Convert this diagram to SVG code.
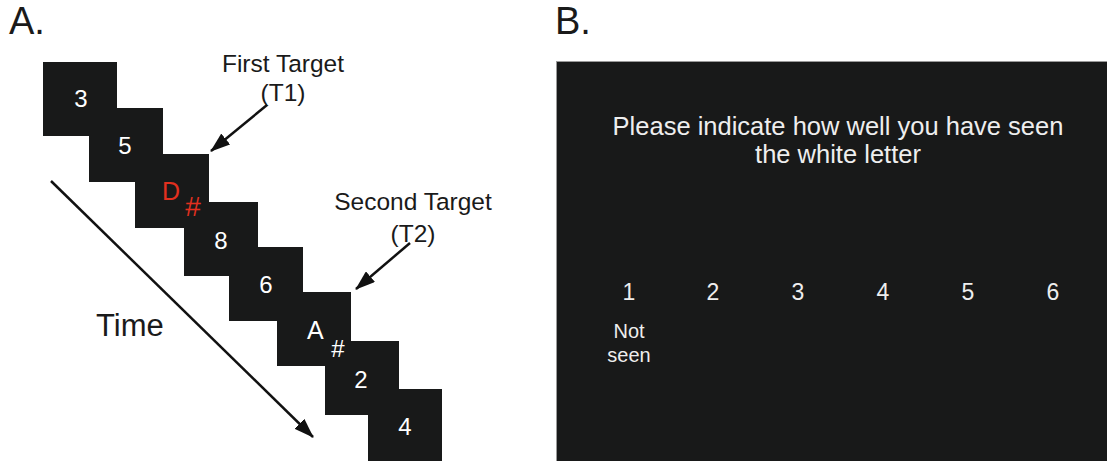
<svg xmlns="http://www.w3.org/2000/svg" width="1107" height="461" viewBox="0 0 1107 461" font-family="'Liberation Sans', Arial, Helvetica, sans-serif">
<style>
.sq{fill:#181919}
.w{fill:#ffffff;font-size:24px;text-anchor:middle}
.lab{fill:#1a1a1a;font-size:24.5px;text-anchor:middle}
.pl{fill:#1a1a1a;font-size:38px}
.bt{fill:#eeeeee;font-size:25.5px;text-anchor:middle}
.num{fill:#eeeeee;font-size:23px;text-anchor:middle}
.red{fill:#e2301f}
.conn{stroke:#111;stroke-width:2.5;fill:none}
</style>
<defs>
<marker id="ah" markerUnits="userSpaceOnUse" viewBox="0 0 20 14" refX="19" refY="7" markerWidth="20" markerHeight="14" orient="auto">
<path d="M0,0 L20,7 L0,14 z" fill="#111"/>
</marker>
</defs>
<rect width="1107" height="461" fill="#ffffff"/>
<text class="pl" x="9" y="34">A.</text>
<text class="pl" x="555" y="34">B.</text>

<g id="frame8"><rect class="sq" x="368" y="389" width="74" height="80"/><text class="w" x="405" y="435">4</text></g>
<g id="frame7"><rect class="sq" x="325" y="341" width="74" height="74"/><text class="w" x="361" y="388">2</text></g>
<g id="frame6"><rect class="sq" x="277" y="292" width="74" height="74"/><text x="307" y="339" fill="#ffffff" font-size="25">A</text><text x="338" y="357" fill="#ffffff" font-size="24" text-anchor="middle">#</text></g>
<g id="frame5"><rect class="sq" x="229" y="247" width="74" height="74"/><text class="w" x="266" y="293">6</text></g>
<g id="frame4"><rect class="sq" x="184" y="202" width="74" height="74"/><text class="w" x="221" y="249">8</text></g>
<g id="frame3"><rect class="sq" x="135" y="154" width="74" height="74"/><text class="red" x="162" y="200" font-size="25">D</text><text class="red" x="193" y="216" font-size="28" text-anchor="middle">#</text></g>
<g id="frame2"><rect class="sq" x="89" y="108" width="74" height="74"/><text class="w" x="125" y="154">5</text></g>
<g id="frame1"><rect class="sq" x="43" y="62" width="74" height="74"/><text class="w" x="81" y="107">3</text></g>

<g id="label-t1"><text class="lab" x="283" y="72">First Target</text><text class="lab" x="283" y="101">(T1)</text></g>
<g id="label-t2"><text class="lab" x="413" y="210">Second Target</text><text class="lab" x="413" y="242">(T2)</text></g>
<g id="label-time"><text x="96" y="336" font-size="31" fill="#1a1a1a">Time</text></g>

<g id="connectors">
<line class="conn" x1="267" y1="105" x2="211" y2="151" marker-end="url(#ah)"/>
<line class="conn" x1="410" y1="243" x2="356" y2="289" marker-end="url(#ah)"/>
<line class="conn" x1="51" y1="181" x2="313" y2="437" marker-end="url(#ah)"/>
</g>

<g id="panelB">
<rect x="556.5" y="61.5" width="560" height="410" fill="#181919" stroke="#9a9a9a" stroke-width="1"/>
<text class="bt" x="838" y="135">Please indicate how well you have seen</text>
<text class="bt" x="838" y="163">the white letter</text>
<text class="num" x="629" y="300">1</text>
<text class="num" x="713" y="300">2</text>
<text class="num" x="798" y="300">3</text>
<text class="num" x="883" y="300">4</text>
<text class="num" x="968" y="300">5</text>
<text class="num" x="1053" y="300">6</text>
<text x="629" y="338" font-size="20" fill="#eeeeee" text-anchor="middle">Not</text>
<text x="629" y="362" font-size="20" fill="#eeeeee" text-anchor="middle">seen</text>
</g>
</svg>
